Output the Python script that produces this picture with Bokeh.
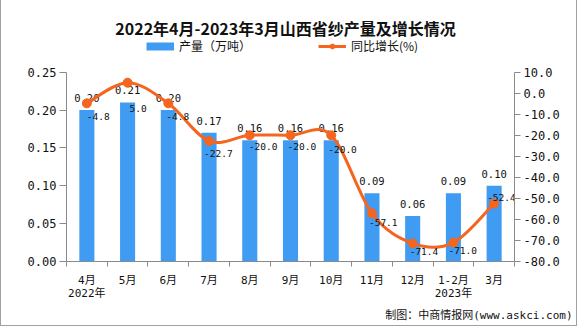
import numpy as np
from bokeh.plotting import figure
from bokeh.models import (Range1d, LinearAxis, FixedTicker, SingleIntervalTicker,
                          NumeralTickFormatter, Label, Legend, LegendItem, ColumnDataSource, Title)
from bokeh.embed import file_html
from bokeh.resources import INLINE
from bokeh.core.properties import value

# ---------------- data ----------------
months = ["4月\n2022年", "5月", "6月", "7月", "8月", "9月", "10月", "11月", "12月", "1-2月\n2023年", "3月"]
output = [0.20, 0.21, 0.20, 0.17, 0.16, 0.16, 0.16, 0.09, 0.06, 0.09, 0.10]
growth = [-4.8, 5.0, -4.8, -22.7, -20.0, -20.0, -20.0, -57.1, -71.4, -71.0, -52.4]
title_text = "2022年4月-2023年3月山西省纱产量及增长情况"
source_text = "制图：中商情报网(www.askci.com)"
legend_bar = "产量（万吨）"
legend_line = "同比增长(%)"

# ---------------- styles ----------------
BAR = "#3f9cf2"
ORANGE = "#f4661f"
AXIS = "#8a8a8a"
CJK = "Noto Sans CJK SC"
MONO = "DejaVu Sans Mono, Noto Sans CJK SC"
growth_label_dy = [13, 26, 13, 13, 11, 11, 14, 9, 8, 8, -6]
growth_label_dx = [0, 2, -2, -5, -1, -3, -3, -3, -3, -5, -7]

# layout geometry (pixels): frame from canvas top to the x axis; value axes occupy the lower part
FRAME_H = 261.0
AXIS_H = 189.3
L_MIN, L_MAX = 0.0, 0.25
R_MIN, R_MAX = -80.0, 10.0
l_top = L_MIN + (L_MAX - L_MIN) * FRAME_H / AXIS_H
r_top = R_MIN + (R_MAX - R_MIN) * FRAME_H / AXIS_H

n = len(months)
xs = np.arange(n, dtype=float)

p = figure(width=577, height=326, output_backend="svg", toolbar_location=None,
           x_range=Range1d(-0.5, n - 0.5), y_range=Range1d(L_MIN, l_top),
           min_border_left=65, min_border_right=64, min_border_top=0, min_border_bottom=65,
           title=None)
p.styles = {"border-left": "1px solid #a0a0a0", "border-right": "1px solid #a0a0a0",
            "border-bottom": "1px solid #a0a0a0"}
p.outline_line_color = None
p.xgrid.visible = False
p.ygrid.visible = False
p.background_fill_color = "white"
p.border_fill_color = "white"
p.extra_y_ranges = {"pct": Range1d(R_MIN, r_top)}

# bars
src = ColumnDataSource(dict(x=xs, top=output, lab=[f"{v:.2f}" for v in output]))
p.vbar(x="x", top="top", width=0.37, source=src, fill_color=BAR, line_color=None)
p.text(x="x", y="top", text="lab", source=src, text_align="center", text_baseline="bottom",
       y_offset=-8, text_font=value(MONO), text_font_size="10.5px", text_color="#111111")

# smooth line via bezier segments (Catmull-Rom control points)
g = np.array(growth, dtype=float)
gp = np.concatenate([[g[0]], g, [g[-1]]])
xp = np.concatenate([[xs[0]], xs, [xs[-1]]])
x0 = xs[:-1]; x1 = xs[1:]; y0 = g[:-1]; y1 = g[1:]
cx0 = x0 + (xp[2:n + 1] - xp[0:n - 1]) / 6.0
cy0 = y0 + (gp[2:n + 1] - gp[0:n - 1]) / 6.0
cx1 = x1 - (xp[3:n + 2] - xp[1:n]) / 6.0
cy1 = y1 - (gp[3:n + 2] - gp[1:n]) / 6.0
p.bezier(x0=x0, y0=y0, x1=x1, y1=y1, cx0=cx0, cy0=cy0, cx1=cx1, cy1=cy1,
         y_range_name="pct", line_color=ORANGE, line_width=3)
pts = p.scatter(xs, g, y_range_name="pct", size=9, fill_color=ORANGE, line_color=ORANGE)

gsrc = ColumnDataSource(dict(x=xs, y=g, lab=[f"{v:.1f}" for v in growth],
                             dy=growth_label_dy, dx=growth_label_dx))
p.text(x="x", y="y", text="lab", source=gsrc, y_range_name="pct", text_align="left",
       text_baseline="middle", x_offset="dx", y_offset="dy", text_font=value(MONO),
       text_font_size="9.5px", text_color="#111111")

# axes
xa = p.xaxis[0]
xa.ticker = FixedTicker(ticks=list(xs), minor_ticks=list(np.arange(n + 1) - 0.5))
xa.major_label_overrides = {float(i): m for i, m in enumerate(months)}
xa.major_tick_line_color = None
xa.minor_tick_line_color = AXIS
xa.minor_tick_out = 5
xa.minor_tick_in = 0
xa.axis_line_color = AXIS
xa.major_label_text_font = MONO
xa.major_label_text_font_size = "11px"
xa.major_label_text_line_height = 1.0
xa.major_label_standoff = 6
xa.major_label_text_color = "#111111"

ya = p.yaxis[0]
ya.bounds = (L_MIN, L_MAX)
ya.ticker = SingleIntervalTicker(interval=0.05, num_minor_ticks=0)
ya.formatter = NumeralTickFormatter(format="0.00")
ya.axis_line_color = AXIS
ya.major_tick_line_color = AXIS
ya.major_tick_out = 7
ya.major_tick_in = 0
ya.minor_tick_line_color = None
ya.major_label_text_font = MONO
ya.major_label_text_font_size = "12px"
ya.major_label_standoff = 3
ya.major_label_text_color = "#111111"

ra = LinearAxis(y_range_name="pct", ticker=SingleIntervalTicker(interval=10, num_minor_ticks=0),
                formatter=NumeralTickFormatter(format="0.0"), bounds=(R_MIN, R_MAX))
ra.axis_line_color = AXIS
ra.major_tick_line_color = AXIS
ra.major_tick_out = 6
ra.major_tick_in = 0
ra.minor_tick_line_color = None
ra.major_label_text_font = MONO
ra.major_label_text_font_size = "12px"
ra.major_label_standoff = 3
ra.major_label_text_color = "#111111"
p.add_layout(ra, "right")

# title (inside the upper, axis-free part of the frame)
p.add_layout(Label(x=219, y=234, x_units="screen", y_units="screen", text=title_text,
                   text_align="center", text_baseline="middle", text_font=CJK,
                   text_font_style="bold", text_font_size="16px", text_color="#111111"))

# source note below the x axis
p.add_layout(Title(text=source_text, align="right", offset=-58, standoff=8,
                   text_font=MONO, text_font_size="11px", text_font_style="normal",
                   text_color="#111111"), "below")

# legend glyph renderers (no visible marks of their own)
lb = p.line([np.nan], [np.nan], line_color=BAR, line_width=8, line_cap="butt")
ll = p.line([np.nan], [np.nan], line_color=ORANGE, line_width=3)
leg = Legend(items=[LegendItem(label=legend_bar, renderers=[lb]),
                    LegendItem(label=legend_line, renderers=[ll, pts])],
             location=(80, 207), orientation="horizontal", padding=0, margin=0,
             spacing=67, glyph_width=28, glyph_height=12, label_height=12,
             label_standoff=5, border_line_color=None, background_fill_alpha=0,
             label_text_font=CJK, label_text_font_size="12px", label_text_color="#111111")
p.add_layout(leg)

open("out.html", "w").write(file_html(p, INLINE))
